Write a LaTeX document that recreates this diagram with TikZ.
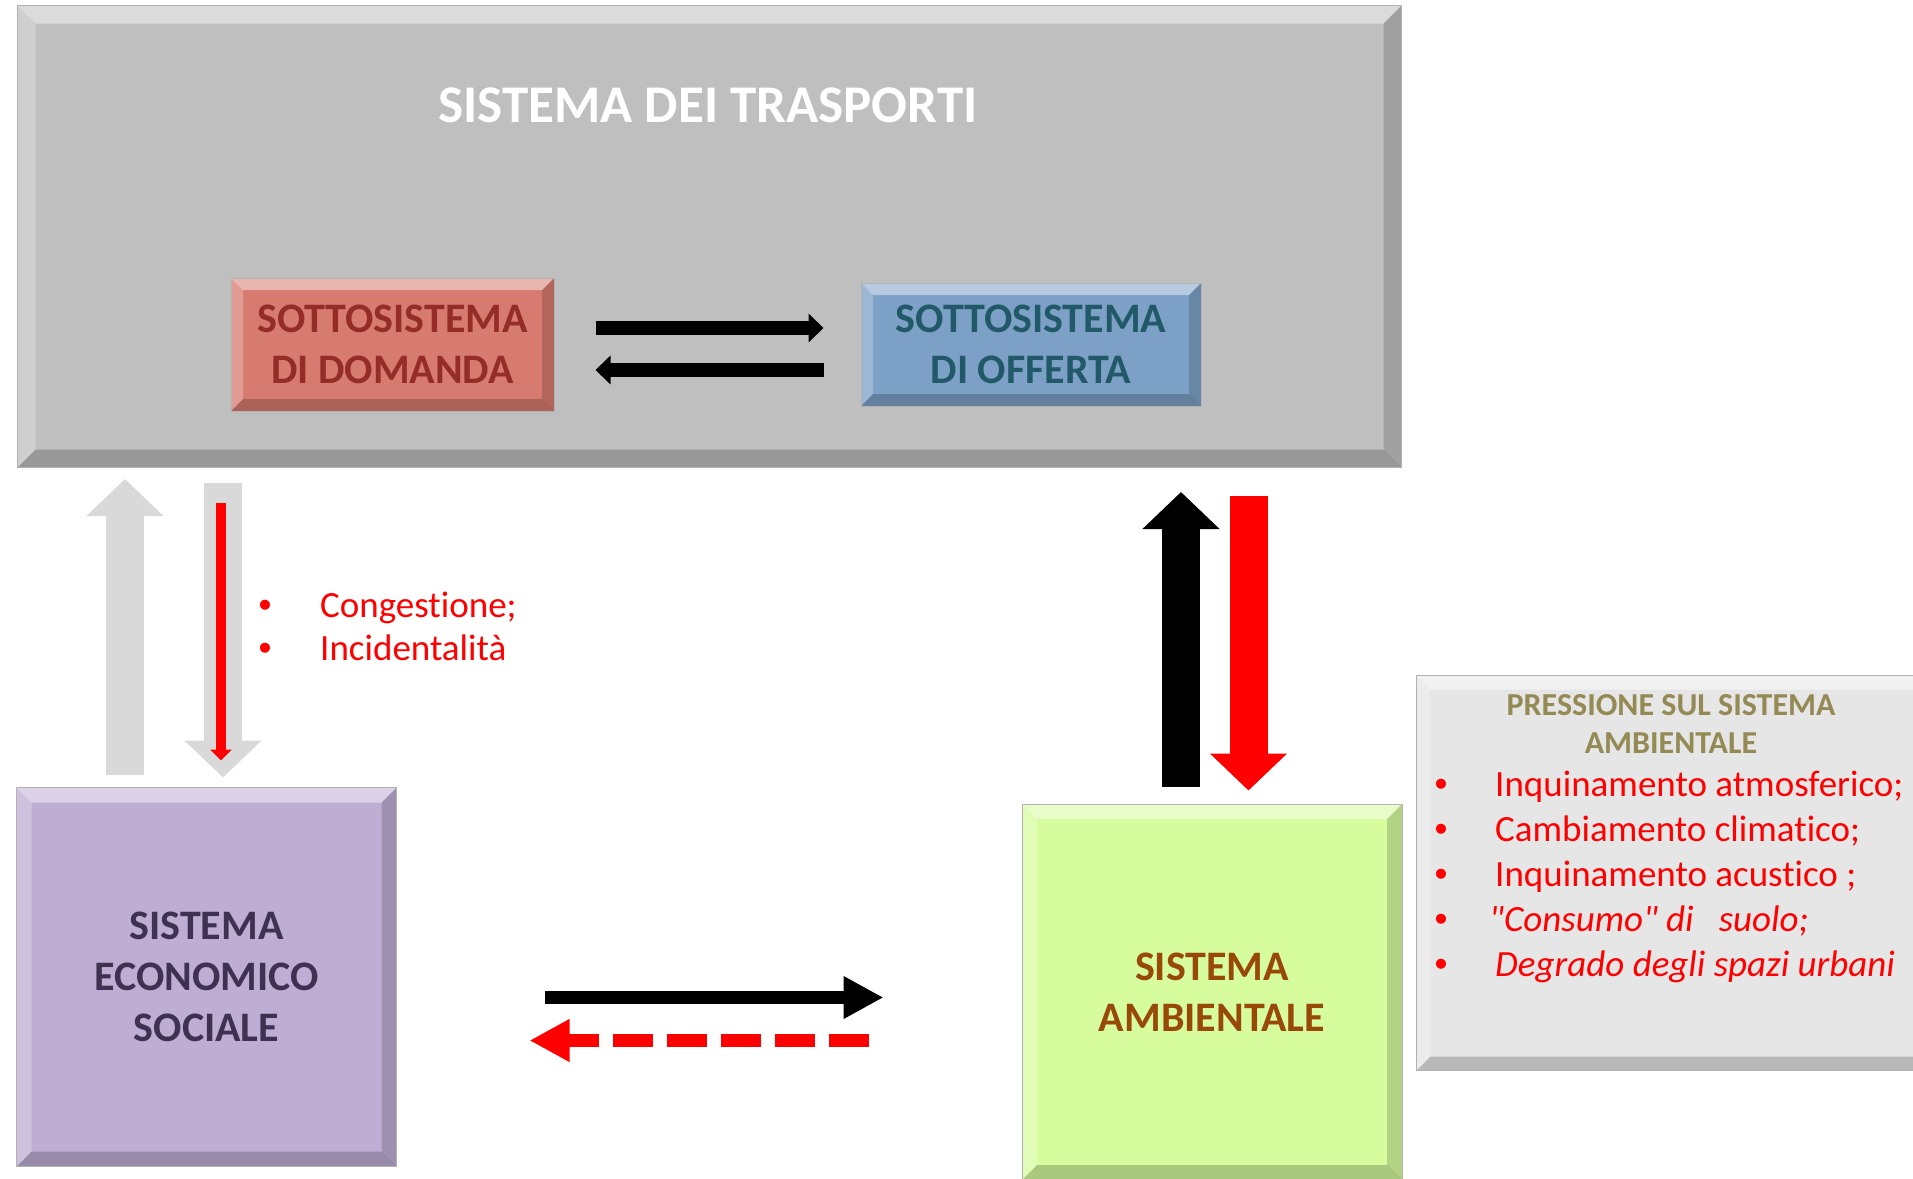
\documentclass[tikz,border=0pt]{standalone}
\usepackage{fontspec}
\setmainfont{Carlito}[Ligatures={TeXOff,NoCommon}]
\newfontfamily\puntofont{Liberation Sans}
\usetikzlibrary{arrows.meta,positioning}

\definecolor{grigiotr}{RGB}{191,191,191}
\definecolor{rossobox}{RGB}{215,122,112}
\definecolor{rossotxt}{RGB}{148,45,40}
\definecolor{blubox}{RGB}{124,160,198}
\definecolor{blutxt}{RGB}{33,89,104}
\definecolor{violabox}{RGB}{190,174,212}
\definecolor{violatxt}{RGB}{63,49,81}
\definecolor{verdebox}{RGB}{214,252,158}
\definecolor{verdetxt}{RGB}{152,72,7}
\definecolor{grigiop}{RGB}{230,230,230}
\definecolor{oliva}{RGB}{148,138,84}
\definecolor{grigiofr}{RGB}{217,217,217}
\definecolor{rosso}{RGB}{255,0,0}

\tikzset{
  bevel/.style={path picture={
      \fill[white,opacity=.45] (path picture bounding box.north west) -- (path picture bounding box.north east)
        -- ([xshift=-#1,yshift=-#1]path picture bounding box.north east) -- ([xshift=#1,yshift=-#1]path picture bounding box.north west) -- cycle;
      \fill[white,opacity=.25] (path picture bounding box.north west) -- ([xshift=#1,yshift=-#1]path picture bounding box.north west)
        -- ([xshift=#1,yshift=#1]path picture bounding box.south west) -- (path picture bounding box.south west) -- cycle;
      \fill[black,opacity=.16] (path picture bounding box.north east) -- (path picture bounding box.south east)
        -- ([xshift=-#1,yshift=#1]path picture bounding box.south east) -- ([xshift=-#1,yshift=-#1]path picture bounding box.north east) -- cycle;
      \fill[black,opacity=.2] (path picture bounding box.south west) -- (path picture bounding box.south east)
        -- ([xshift=-#1,yshift=#1]path picture bounding box.south east) -- ([xshift=#1,yshift=#1]path picture bounding box.south west) -- cycle;
  }},
  scatola/.style={rectangle, inner sep=0pt, align=center, draw=black!30, line width=1pt,
    font=\bfseries\fontsize{42}{51}\selectfont},
  titolo/.style={inner sep=0pt, text=white, font=\bfseries\fontsize{53}{64}\selectfont},
  ptitolo/.style={inner sep=0pt, text=oliva, font=\bfseries\fontsize{32}{39}\selectfont},
  voce/.style={inner sep=0pt, anchor=base west, text=rosso, font=\fontsize{37}{44}\selectfont},
  punto/.style={inner sep=0pt, anchor=base, text=rosso, font=\puntofont\fontsize{37}{44}\selectfont},
  blocco/.style={line width=38pt, -{Triangle[length=37pt,width=75pt]}},
  sottile/.style={line width=10pt, rosso, -{Triangle[length=11pt,width=21pt]}},
  medio/.style={line width=14pt, -{Triangle[length=15pt,width=28pt]}},
  piatto/.style={line width=13pt, -{Triangle[length=40pt,width=40pt]}}
}

\begin{document}
\begin{tikzpicture}[x=1pt,y=-1pt,node distance=306pt]
  \useasboundingbox (0,0) rectangle (1913,1178);

  % sistema dei trasporti
  \node[scatola, fill=grigiotr, bevel=18pt, anchor=north west,
        minimum width=1384pt, minimum height=462pt] (trasp) at (17,5) {};
  \node[titolo, anchor=base] (tit) at (708,122.5) {SISTEMA DEI TRASPORTI};

  \node[scatola, fill=rossobox, text=rossotxt, bevel=12pt,
        minimum width=323pt, minimum height=133pt] (dom) at (392.5,344.5) {SOTTOSISTEMA\\DI DOMANDA};
  \node[scatola, fill=blubox, text=blutxt, bevel=12pt,
        minimum width=340pt, minimum height=123pt] (off) [right=of dom] {SOTTOSISTEMA\\DI OFFERTA};

  % sistemi esterni
  \node[scatola, fill=violabox, text=violatxt, bevel=15pt,
        minimum width=380pt, minimum height=379pt] (eco) at (206.5,977) {SISTEMA\\ECONOMICO\\SOCIALE};
  \node[scatola, fill=verdebox, text=verdetxt, bevel=15pt,
        minimum width=380pt, minimum height=376pt] (amb) at (1212,992) {SISTEMA\\AMBIENTALE};
  \node[scatola, fill=grigiop, bevel=14pt, anchor=north west,
        minimum width=514pt, minimum height=395pt] (press) at (1416,675) {};

  \node[ptitolo, anchor=base] (pt1) at (1671,715) {PRESSIONE SUL SISTEMA};
  \node[ptitolo, anchor=base] (pt2) at (1671,753) {AMBIENTALE};

  \foreach \voce/\xt [count=\i from 0] in {Inquinamento atmosferico;/1495, Cambiamento climatico;/1495,
      Inquinamento acustico ;/1495, {\itshape "Consumo" di\ \ \ suolo;}/1489, {\itshape Degrado degli spazi urbani}/1495}
    {
    \node[punto] (pb\i) at (1441,{796+45*\i}) {•};
    \node[voce] (pv\i) at (\xt,{796+45*\i}) {\voce};
    }

  \foreach \voce [count=\i from 0] in {Congestione;, Incidentalità}
    {
    \node[punto] (cb\i) at (265,{617+43*\i}) {•};
    \node[voce] (cv\i) at (320,{617+43*\i}) {\voce};
    }

  % connettori
  \coordinate (ya) at (0,328);
  \coordinate (yb) at (0,370);
  \coordinate (yc) at (0,997.5);
  \coordinate (yd) at (0,1040.5);
  \coordinate (xa) at (125,0);
  \coordinate (xb) at (223,0);
  \coordinate (xr) at (221,0);
  \coordinate (xc) at (1181,0);
  \coordinate (xd) at (1248.5,0);

  \draw[medio, shorten <=41pt, shorten >=37pt] (dom.east |- ya) -- (off.west |- ya);
  \draw[medio, shorten <=37pt, shorten >=41pt] (off.west |- yb) -- (dom.east |- yb);

  \draw[blocco, grigiofr, shorten <=12.5pt, shorten >=11pt] (eco.north -| xa) -- (trasp.south -| xa);
  \draw[blocco, grigiofr, shorten <=15pt, shorten >=9.5pt] (trasp.south -| xb) -- (eco.north -| xb);
  \draw[sottile, shorten <=35pt, shorten >=26.5pt] (trasp.south -| xr) -- (eco.north -| xr);

  \draw[blocco, black, shorten <=17pt, shorten >=24pt] (amb.north -| xc) -- (trasp.south -| xc);
  \draw[blocco, rosso, shorten <=28pt, shorten >=13pt] (trasp.south -| xd) -- (amb.north -| xd);

  \draw[piatto, black, shorten <=147.5pt, shorten >=138pt] (eco.east |- yc) -- (amb.west |- yc);
  \draw[piatto, rosso, dash pattern=on 40pt off 14pt, shorten <=153pt, shorten >=132.5pt] (amb.west |- yd) -- (eco.east |- yd);
\end{tikzpicture}
\end{document}
